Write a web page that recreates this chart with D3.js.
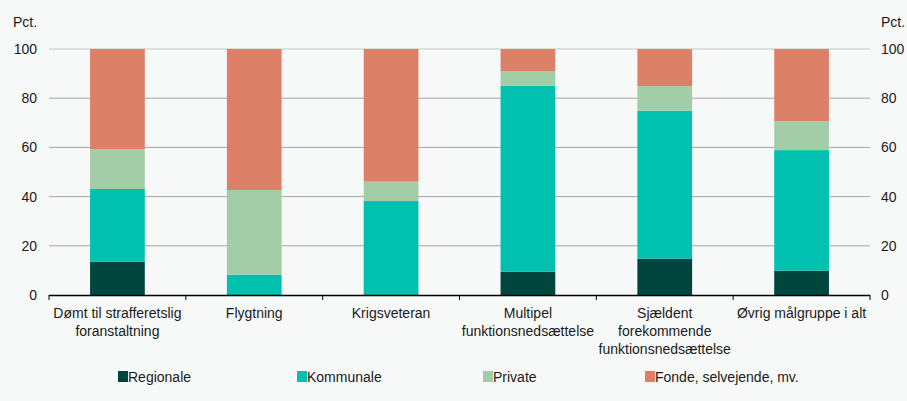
<!DOCTYPE html>
<html>
<head>
<meta charset="utf-8">
<script src="https://cdn.jsdelivr.net/npm/d3@7"></script>
<style>
  body { margin: 0; background: #f7f9f9; }
  svg { display: block; font-family: "Liberation Sans", Arial, sans-serif; }
</style>
</head>
<body>
<div id="chart"></div>
<script>
// data
const categories = [
  ["Dømt til strafferetslig", "foranstaltning"],
  ["Flygtning"],
  ["Krigsveteran"],
  ["Multipel", "funktionsnedsættelse"],
  ["Sjældent", "forekommende", "funktionsnedsættelse"],
  ["Øvrig målgruppe i alt"]
];
const seriesNames = ["Regionale", "Kommunale", "Private", "Fonde, selvejende, mv."];
const regionale = [13.5, 0, 0, 9.5, 14.8, 9.9];
const kommunale = [29.6, 8.3, 38.2, 75.6, 60.1, 49.0];
const privat = [16.2, 34.4, 7.9, 5.8, 10.0, 11.8];
const fonde = [40.7, 57.3, 53.9, 9.1, 15.1, 29.3];
const yTicks = [0, 20, 40, 60, 80, 100];
const colors = ["#00463f", "#00c1b0", "#a3cda6", "#dc8068"];

const width = 907, height = 401;
const margin = {top: 49, right: 37, bottom: 106, left: 49};

const svg = d3.select("#chart").append("svg")
    .attr("width", width)
    .attr("height", height);

const rows = categories.map((c, i) => ({
  idx: i,
  s0: regionale[i], s1: kommunale[i], s2: privat[i], s3: fonde[i]
}));

let x = d3.scaleBand()
    .domain(d3.range(categories.length))
    .range([margin.left, width - margin.right])
    .paddingInner(0.6)
    .paddingOuter(0.3);

let y = d3.scaleLinear()
    .domain([0, 100])
    .range([height - margin.bottom, margin.top]);

// gridlines
svg.append("g")
  .selectAll("line")
  .data(yTicks.filter(d => d > 0))
  .enter().append("line")
    .attr("x1", margin.left)
    .attr("x2", width - margin.right)
    .attr("y1", d => y(d))
    .attr("y2", d => y(d))
    .attr("stroke", d => d == 100 ? "#c4c4c4" : "#a6a6a6")
    .attr("stroke-width", 1);

// stacked bars
let stack = d3.stack().keys(["s0", "s1", "s2", "s3"]);
let layers = stack(rows);

svg.append("g")
  .selectAll("g")
  .data(layers)
  .enter().append("g")
    .attr("fill", (d, i) => colors[i])
  .selectAll("rect")
  .data(d => d)
  .enter().append("rect")
    .attr("x", d => x(d.data.idx))
    .attr("width", x.bandwidth())
    .attr("y", d => y(d[1]))
    .attr("height", d => y(d[0]) - y(d[1]));

// baseline with category ticks
let base = svg.append("g");
base.append("line")
    .attr("x1", margin.left).attr("x2", width - margin.right)
    .attr("y1", y(0) + 0.5).attr("y2", y(0) + 0.5)
    .attr("stroke", "#000").attr("stroke-width", 1.3);
let step = (width - margin.right - margin.left) / categories.length;
base.selectAll(".tk")
  .data(d3.range(categories.length + 1))
  .enter().append("line")
    .attr("x1", d => margin.left + d * step)
    .attr("x2", d => margin.left + d * step)
    .attr("y1", y(0))
    .attr("y2", y(0) + 5)
    .attr("stroke", "#000");

// y labels left and right
svg.append("g")
  .selectAll("text")
  .data(yTicks)
  .enter().append("text")
    .attr("x", 37)
    .attr("y", d => y(d))
    .attr("dy", "0.35em")
    .attr("text-anchor", "end")
    .attr("font-size", 14)
    .attr("fill", "#1a1a1a")
    .text(d => d);

svg.append("g")
  .selectAll("text")
  .data(yTicks)
  .enter().append("text")
    .attr("x", 881)
    .attr("y", d => y(d))
    .attr("dy", "0.35em")
    .attr("font-size", 14)
    .attr("fill", "#1a1a1a")
    .text(d => d);

svg.append("text").attr("x", 13).attr("y", 27)
    .attr("font-size", 14).attr("fill", "#1a1a1a").text("Pct.");
svg.append("text").attr("x", 881).attr("y", 27)
    .attr("font-size", 14).attr("fill", "#1a1a1a").text("Pct.");

// category labels
let cat = svg.append("g")
  .selectAll("text")
  .data(categories)
  .enter().append("text")
    .attr("x", (d, i) => x(i) + x.bandwidth() / 2)
    .attr("y", 318)
    .attr("text-anchor", "middle")
    .attr("font-size", 14)
    .attr("fill", "#1a1a1a");
cat.selectAll("tspan")
  .data(d => d)
  .enter().append("tspan")
    .attr("x", function() { return this.parentNode.getAttribute("x"); })
    .attr("dy", (d, i) => i == 0 ? 0 : 18)
    .text(d => d);

// legend
const legendX = [118, 297, 483, 645];
let leg = svg.append("g")
  .selectAll("g")
  .data(seriesNames)
  .enter().append("g")
    .attr("transform", (d, i) => "translate(" + legendX[i] + ",377)");
leg.append("rect")
    .attr("x", 0).attr("y", -6)
    .attr("width", 10).attr("height", 11)
    .attr("fill", (d, i) => colors[i]);
leg.append("text")
    .attr("x", 10).attr("y", 0)
    .attr("dy", "0.35em")
    .attr("font-size", 14)
    .attr("fill", "#1a1a1a")
    .text(d => d);
</script>
</body>
</html>
